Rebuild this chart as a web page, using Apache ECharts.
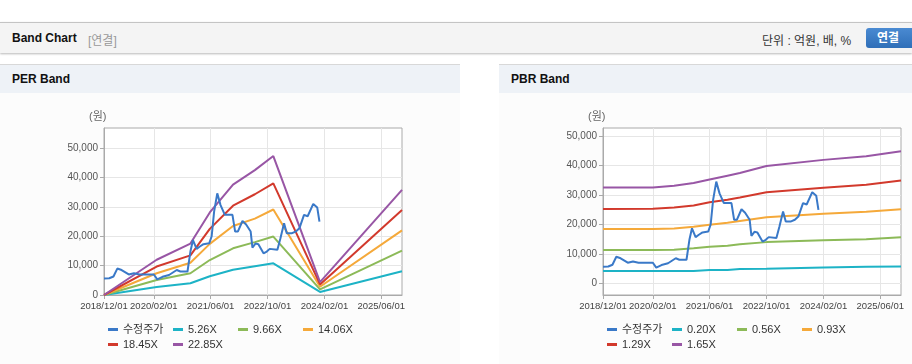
<!DOCTYPE html>
<html><head><meta charset="utf-8">
<script src="https://cdn.jsdelivr.net/npm/echarts@6/dist/echarts.min.js"></script>
<style>
html,body{margin:0;padding:0;background:#fff;width:912px;height:364px;overflow:hidden;font-family:"Liberation Sans","Noto Sans CJK KR",Arial,sans-serif;}
#hdr{position:absolute;left:0;top:22px;width:912px;height:30px;background:#f4f4f4;border-top:1px solid #c4c4c4;box-shadow:0 1px 2px rgba(0,0,0,0.28);}
#hdr .t{position:absolute;left:12px;top:8px;font-size:12px;font-weight:bold;color:#111;}
#hdr .s{position:absolute;left:88px;top:8px;font-size:12px;color:#999;}
#hdr .u{position:absolute;left:762px;top:8px;font-size:12px;color:#333;}
#hdr .b{position:absolute;left:866px;top:5px;width:52px;height:20px;background:linear-gradient(#4a8ad2,#2f6fb8);border-radius:3px;color:#fff;font-size:12px;font-weight:bold;line-height:20px;text-indent:11px;}
.ph{position:absolute;top:64px;height:28px;background:#eef2f7;border-top:1px solid #d8d8d8;}
.ph span{position:absolute;left:12px;top:7px;font-size:12px;font-weight:bold;color:#111;}
.pb{position:absolute;top:93px;height:271px;background:#fcfcfc;}
#chart{position:absolute;left:0;top:0;width:912px;height:364px;}
</style></head>
<body>
<div id="hdr"><div class="t">Band Chart</div><div class="s">[연결]</div><div class="u">단위 : 억원, 배, %</div><div class="b">연결</div></div>
<div class="ph" style="left:0;width:460px"><span>PER Band</span></div>
<div class="ph" style="left:499px;width:413px"><span>PBR Band</span></div>
<div class="pb" style="left:0;width:460px"></div>
<div class="pb" style="left:499px;width:413px"></div>
<div id="chart"></div>
<script>
// ---- data ----
const xTickDates = ['2018-12-01','2020-02-01','2021-06-01','2022-10-01','2024-02-01','2025-06-01'];
const xMin = '2018-12-01', xMax = '2025-11-26';
const yTicks = [0,10000,20000,30000,40000,50000];

const priceDates = ['2018-12-01','2019-01-15','2019-02-20','2019-03-25','2019-05-01','2019-07-01','2019-08-15','2019-10-01','2019-12-01','2020-02-01','2020-03-01','2020-04-15','2020-06-10','2020-08-15','2020-09-15','2020-11-15','2020-12-10','2021-01-01','2021-02-01','2021-03-01','2021-04-01','2021-05-20','2021-06-10','2021-07-01','2021-07-28','2021-08-25','2021-10-01','2021-12-05','2021-12-28','2022-01-20','2022-03-01','2022-04-01','2022-05-10','2022-05-25','2022-06-20','2022-07-15','2022-08-28','2022-09-25','2022-10-20','2022-12-25','2023-01-20','2023-02-20','2023-03-15','2023-04-25','2023-06-01','2023-07-01','2023-08-10','2023-09-10','2023-10-28','2023-12-01','2023-12-20'];
const priceValues = [5600,5700,6300,9000,8500,7000,7400,7000,7000,7000,5300,6200,6800,8500,8000,8000,14800,18700,15700,16500,17300,17600,20000,28400,34600,30600,27300,27300,21600,21600,25200,24000,21600,16100,17500,17300,14200,14800,15700,15400,19300,24400,21000,21000,21600,22700,27300,26800,31000,29800,25000];

const perDates = ['2018-12-01','2020-02-25','2020-12-10','2021-05-25','2021-12-10','2022-06-15','2022-11-20','2023-12-25','2025-11-26'];
const per526  = [0, 2760, 4000, 6400, 8600, 9800, 10800, 1050, 8100];
const per966  = [0, 5100, 7400, 11900, 15900, 18000, 19900, 1900, 15100];
const per1406 = [0, 7400, 11000, 17400, 23500, 26000, 29100, 2800, 22000];
const per1845 = [0, 9700, 13500, 22500, 30400, 34300, 38000, 3600, 28900];
const per2285 = [0, 12000, 17500, 28100, 37600, 42500, 47300, 4400, 35800];

const pbrDates = ['2018-12-01','2020-02-01','2020-08-01','2021-01-15','2021-06-01','2021-11-01','2022-02-15','2022-10-01','2024-02-01','2025-02-01','2025-11-26'];
const pbr020 = [4200, 4200, 4200, 4200, 4500, 4550, 4850, 4900, 5350, 5600, 5700];
const pbr056 = [11350, 11350, 11400, 11900, 12400, 12800, 13300, 14000, 14600, 15000, 15700];
const pbr093 = [18500, 18500, 18600, 19200, 19900, 20600, 21200, 22500, 23700, 24300, 25200];
const pbr129 = [25300, 25400, 25800, 26500, 27600, 28400, 29200, 31000, 32500, 33500, 35000];
const pbr165 = [32600, 32600, 33200, 34100, 35300, 36600, 37500, 39900, 42000, 43200, 44900];

const perNames = ['수정주가','5.26X','9.66X','14.06X','18.45X','22.85X'];
const pbrNames = ['수정주가','0.20X','0.56X','0.93X','1.29X','1.65X'];
const colors = ['#3a79c8','#1db3c6','#8cba58','#f5a93a','#d2392c','#9856a5'];

// ---- helpers ----
function ts(s){const p=s.split('-');return new Date(+p[0],+p[1]-1,+p[2]).getTime();}
function zip(d,v){return d.map((x,i)=>[ts(x),v[i]]);}
function pad(n){return (n<10?'0':'')+n;}
function fmtDate(v){const d=new Date(v);return d.getFullYear()+'/'+pad(d.getMonth()+1)+'/'+pad(d.getDate());}
function fmtNum(v){return Math.round(v).toLocaleString('en-US');}

const chart = echarts.init(document.getElementById('chart'), null, {renderer:'canvas'});
const font = '"Liberation Sans","Noto Sans CJK KR",Arial,sans-serif';
const xTickTs = xTickDates.map(ts);

function gridDef(left){return {left:left, top:128, width:298, height:167, show:true, borderColor:'#aaaaaa', borderWidth:1, backgroundColor:'#ffffff', containLabel:false};}
function xDef(g){return {type:'value', gridIndex:g, min:ts(xMin), max:ts(xMax),
  axisLine:{show:true, onZero:false, lineStyle:{color:'#aaaaaa'}},
  axisTick:{show:true, length:4, customValues:xTickTs, lineStyle:{color:'#aaaaaa'}},
  axisLabel:{customValues:xTickTs, formatter:fmtDate, fontSize:9.5, color:'#444', margin:7, fontFamily:font, hideOverlap:false},
  splitLine:{show:true, lineStyle:{color:'#e6e6e6'}}};}
function yDef(g,min,max){return {type:'value', gridIndex:g, min:min, max:max,
  axisLine:{show:true, onZero:false, lineStyle:{color:'#aaaaaa'}},
  axisTick:{show:true, length:4, customValues:yTicks, lineStyle:{color:'#aaaaaa'}},
  axisLabel:{customValues:yTicks, formatter:fmtNum, fontSize:10, color:'#555', margin:6, fontFamily:font},
  splitLine:{show:true, lineStyle:{color:'#e6e6e6'}}};}
function legDef(left,names){return {data:names.map(n=>({name:n})), left:left, top:324, width:262, orient:'horizontal',
  icon:'rect', itemWidth:10, itemHeight:3, itemGap:4, padding:0,
  textStyle:{fontSize:11, color:'#333', width:46, lineHeight:10, fontFamily:font}};}
function line(name,data,ci,g){return {name:name, type:'line', xAxisIndex:g, yAxisIndex:g, data:data, showSymbol:false, symbol:'none',
  lineStyle:{width:2, color:colors[ci]}, itemStyle:{color:colors[ci]}, animation:false, silent:true, z:ci===0?3:2};}

const perBands = [per526, per966, per1406, per1845, per2285];
const pbrBands = [pbr020, pbr056, pbr093, pbr129, pbr165];
const series = [line(perNames[0], zip(priceDates,priceValues), 0, 0)];
perBands.forEach((b,i)=>series.push(line(perNames[i+1], zip(perDates,b), i+1, 0)));
series.push(line(pbrNames[0], zip(priceDates,priceValues), 0, 1));
pbrBands.forEach((b,i)=>series.push(line(pbrNames[i+1], zip(pbrDates,b), i+1, 1)));

chart.setOption({
  animation:false,
  grid:[gridDef(104), gridDef(603)],
  xAxis:[xDef(0), xDef(1)],
  yAxis:[yDef(0,0,56850), yDef(1,-4000,52850)],
  legend:[legDef(108, perNames), legDef(607, pbrNames)],
  series: series,
  graphic:[
    {type:'text', left:89, top:111, style:{text:'(원)', fill:'#666', font:'11px '+font}},
    {type:'text', left:588, top:111, style:{text:'(원)', fill:'#666', font:'11px '+font}}
  ]
});
</script>
</body></html>
